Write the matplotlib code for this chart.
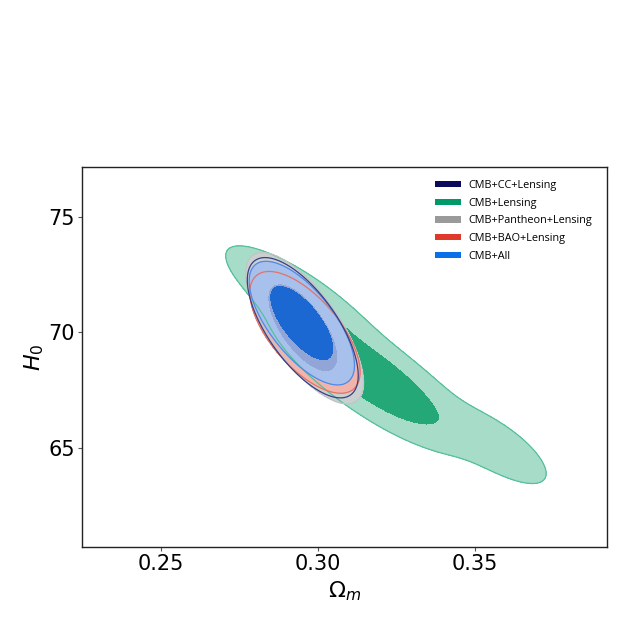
import numpy as np
import matplotlib.pyplot as plt
from matplotlib.patches import Patch

# posterior summaries, one row per Gaussian component
# (CMB+Lensing gets three so its bent, skewed shape comes out)
comp_set = ['CMB+Lensing', 'CMB+Lensing', 'CMB+Lensing', 'CMB+Pantheon+Lensing',
            'CMB+BAO+Lensing', 'CMB+All', 'CMB+CC+Lensing']
comp_weight = [0.42, 1.0, 0.19, 1.0, 1.0, 1.0, 1.0]
comp_om = [0.2952, 0.3175, 0.3562, 0.2959, 0.2960, 0.2950, 0.2953]
comp_h0 = [71.30, 68.04, 65.13, 70.18, 70.00, 70.40, 70.20]
comp_sig_om = [0.01160, 0.01337, 0.00985, 0.00755, 0.00707, 0.00675, 0.00711]
comp_sig_h0 = [1.160, 1.337, 0.985, 1.317, 1.060, 1.076, 1.221]
comp_rho = [-0.824, -0.812, -0.742, -0.72, -0.65, -0.68, -0.68]

legend_labels = ['CMB+CC+Lensing', 'CMB+Lensing', 'CMB+Pantheon+Lensing',
                 'CMB+BAO+Lensing', 'CMB+All']
legend_colors = ['#0b0b5e', '#009a6a', '#9a9a9a', '#e0382a', '#0a70e8']

x_ticks = [0.25, 0.30, 0.35]
y_ticks = [65, 70, 75]

# delta chi^2 for 68% / 95% in 2D
lev68, lev95 = 2.30, 6.17

om = np.linspace(0.224, 0.394, 600)
h0 = np.linspace(60.5, 77.4, 600)
OM, H = np.meshgrid(om, h0)


def chi2(name):
    f = np.zeros_like(OM)
    for s, w, mo, mh, so, sh, r in zip(comp_set, comp_weight, comp_om, comp_h0,
                                       comp_sig_om, comp_sig_h0, comp_rho):
        if s != name:
            continue
        x = (OM - mo) / so
        y = (H - mh) / sh
        q = (x * x - 2 * r * x * y + y * y) / (1 - r * r)
        f += w * np.exp(-0.5 * q)
    return -2 * np.log(f / f.max() + 1e-300)


fig = plt.figure(figsize=(6.2, 6.24), dpi=100)
ax = fig.add_axes([0.1323, 0.1234, 0.8468, 0.6090])

# fills, bottom to top: name, 95% colour, 68% colour
fills = [('CMB+Lensing', '#a6dcc8', '#24a878'),
         ('CMB+Pantheon+Lensing', '#cad0d0', '#a9b0b6'),
         ('CMB+BAO+Lensing', '#f2b4aa', '#e98c80'),
         ('CMB+All', '#a8c0ec', '#1e78e6')]
for name, c95, c68 in fills:
    ax.contourf(OM, H, chi2(name), levels=[0, lev68, lev95], colors=[c68, c95])

# CC 68% region shows only as a dark tint over the others
ax.contourf(OM, H, chi2('CMB+CC+Lensing'), levels=[0, lev68],
            colors=['#0b0b5e'], alpha=0.14)

edges = [('CMB+Lensing', '#55c09c'),
         ('CMB+Pantheon+Lensing', '#c0c6c6'),
         ('CMB+BAO+Lensing', '#e27466'),
         ('CMB+All', '#4f8ae6'),
         ('CMB+CC+Lensing', '#3a3f86')]
for name, c in edges:
    ax.contour(OM, H, chi2(name), levels=[lev95], colors=[c], linewidths=0.9)

ax.set_xlim(0.2250, 0.3922)
ax.set_ylim(60.72, 77.15)
ax.set_xticks(x_ticks)
ax.set_xticklabels(['%.2f' % v for v in x_ticks])
ax.set_yticks(y_ticks)
ax.tick_params(labelsize=15, length=3, width=0.8, color='#555555', pad=2)
for sp in ax.spines.values():
    sp.set_color('#222222')
    sp.set_linewidth(1.0)

ax.set_xlabel(r'$\Omega_m$', fontsize=16, labelpad=4)
ax.set_ylabel(r'$H_0$', fontsize=16, labelpad=2)

handles = [Patch(facecolor=c, edgecolor='none') for c in legend_colors]
ax.legend(handles, legend_labels, loc='upper left', bbox_to_anchor=(0.672, 0.966),
          frameon=False, borderpad=0, borderaxespad=0,
          prop={'family': 'Open Sans', 'size': 7.8},
          handlelength=2.4, handleheight=0.55, handletextpad=0.7, labelspacing=0.62)

fig.savefig('out.png', dpi=100)
